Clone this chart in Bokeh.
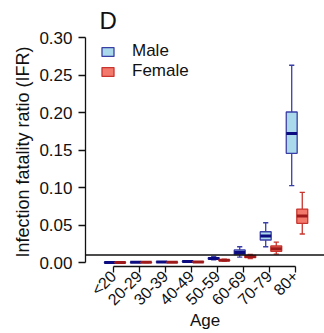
import math
from bokeh.plotting import figure
from bokeh.models import (ColumnDataSource, FixedTicker, NumeralTickFormatter,
                          Span, Legend, LegendItem, Range1d)
from bokeh.transform import dodge
from bokeh.embed import file_html
from bokeh.resources import INLINE

# ---- data ----
categories = ["<20", "20-29", "30-39", "40-49", "50-59", "60-69", "70-79", "80+"]

male_lower  = [0.00002, 0.0001, 0.0003, 0.0008, 0.0035, 0.0073, 0.021, 0.1024]
male_q1     = [0.00005, 0.0002, 0.0005, 0.0012, 0.0045, 0.0105, 0.030, 0.1456]
male_median = [0.0001,  0.0003, 0.0007, 0.0015, 0.0055, 0.0133, 0.0353, 0.172]
male_q3     = [0.00015, 0.0004, 0.0009, 0.0018, 0.0065, 0.0167, 0.041, 0.2007]
male_upper  = [0.0003,  0.0006, 0.0012, 0.0024, 0.0080, 0.021, 0.053, 0.263]

female_lower  = [0.00001, 0.00005, 0.0002, 0.0004, 0.0018, 0.0052, 0.0113, 0.038]
female_q1     = [0.00003, 0.0001,  0.0003, 0.0006, 0.0025, 0.0064, 0.015, 0.0522]
female_median = [0.00005, 0.0002,  0.0004, 0.0008, 0.0030, 0.0079, 0.0184, 0.062]
female_q3     = [0.00008, 0.0003,  0.0005, 0.0010, 0.0035, 0.0096, 0.022, 0.0713]
female_upper  = [0.00015, 0.0004,  0.0007, 0.0013, 0.0045, 0.0108, 0.0273, 0.0936]

y_ticks = [0.0, 0.05, 0.10, 0.15, 0.20, 0.25, 0.30]
x_pos = list(range(len(categories)))

FONT = "Liberation Sans"

male_src = ColumnDataSource(dict(x=x_pos, lo=male_lower, q1=male_q1, med=male_median,
                                 q3=male_q3, hi=male_upper))
female_src = ColumnDataSource(dict(x=x_pos, lo=female_lower, q1=female_q1, med=female_median,
                                   q3=female_q3, hi=female_upper))

p = figure(width=324, height=333, output_backend="svg", toolbar_location=None,
           x_range=Range1d(-1.077, 8.115), y_range=Range1d(-0.0053, 0.30),
           min_border_left=85, min_border_right=0, min_border_top=37, min_border_bottom=67)
p.outline_line_color = None
p.grid.visible = False
p.background_fill_color = "white"
p.border_fill_color = "white"

# panel letter as the plot title
p.title.text = "D"
p.title.align = "left"
p.title.offset = 14
p.title.standoff = 8
p.title.text_font = FONT
p.title.text_font_size = "24px"
p.title.text_font_style = "normal"
p.title.text_color = "#111111"

BW = 0.42
CAP = 0.2

def draw(src, off, fill, line, med_col):
    xs = dodge("x", off, range=p.x_range)
    p.segment(x0=xs, x1=xs, y0="q3", y1="hi", source=src, line_color=line, line_width=1.3)
    p.segment(x0=xs, x1=xs, y0="lo", y1="q1", source=src, line_color=line, line_width=1.3)
    p.segment(x0=dodge("x", off - CAP / 2, range=p.x_range), x1=dodge("x", off + CAP / 2, range=p.x_range),
              y0="hi", y1="hi", source=src, line_color=line, line_width=1.3)
    p.segment(x0=dodge("x", off - CAP / 2, range=p.x_range), x1=dodge("x", off + CAP / 2, range=p.x_range),
              y0="lo", y1="lo", source=src, line_color=line, line_width=1.3)
    r = p.vbar(x=xs, width=BW, top="q3", bottom="q1", source=src,
               fill_color=fill, line_color=line, line_width=1.3)
    p.segment(x0=dodge("x", off - BW / 2, range=p.x_range), x1=dodge("x", off + BW / 2, range=p.x_range),
              y0="med", y1="med", source=src, line_color=med_col, line_width=3)
    return r

rm = draw(male_src, -0.146, "#a9d9ea", "#3a3fa6", "#0c0c80")
rf = draw(female_src, 0.26, "#f4796d", "#c8352e", "#9e1a1a")

p.add_layout(Span(location=0.01, dimension="width", line_color="#111111", line_width=1.3))

# y axis
ya = p.yaxis[0]
ya.ticker = FixedTicker(ticks=y_ticks)
ya.formatter = NumeralTickFormatter(format="0.00")
ya.bounds = (0, 0.30)
ya.major_tick_out = 7
ya.major_tick_in = 0
ya.minor_tick_line_color = None
ya.axis_line_width = 1.3
ya.major_tick_line_width = 1.3
ya.axis_line_color = "#111111"
ya.major_tick_line_color = "#111111"
ya.major_label_text_font = FONT
ya.major_label_text_font_size = "17px"
ya.major_label_text_color = "#111111"
ya.major_label_standoff = 6
ya.axis_label = "Infection fatality ratio (IFR)"
ya.axis_label_text_font = FONT
ya.axis_label_text_font_size = "18px"
ya.axis_label_text_font_style = "normal"
ya.axis_label_text_color = "#111111"
ya.axis_label_standoff = 3

# x axis
xa = p.xaxis[0]
xa.ticker = FixedTicker(ticks=x_pos)
xa.major_label_overrides = {i: c for i, c in zip(x_pos, categories)}
xa.bounds = (0, len(categories) - 1)
xa.major_tick_out = 6
xa.major_tick_in = 0
xa.minor_tick_line_color = None
xa.axis_line_width = 1.3
xa.major_tick_line_width = 1.3
xa.axis_line_color = "#111111"
xa.major_tick_line_color = "#111111"
xa.major_label_orientation = math.pi / 4
xa.major_label_text_font = FONT
xa.major_label_text_font_size = "16px"
xa.major_label_text_color = "#111111"
xa.major_label_standoff = 1
xa.axis_label = "Age"
xa.axis_label_text_font = FONT
xa.axis_label_text_font_size = "17px"
xa.axis_label_text_font_style = "normal"
xa.axis_label_text_color = "#111111"
xa.axis_label_standoff = -6

legend = Legend(items=[LegendItem(label="Male", renderers=[rm]),
                       LegendItem(label="Female", renderers=[rf])],
                location=(15, 185), border_line_color=None, background_fill_alpha=0,
                padding=0, margin=0, spacing=0, glyph_width=15, glyph_height=11,
                label_standoff=17, label_text_font=FONT, label_text_font_size="17px",
                label_height=17, label_text_color="#111111")
p.add_layout(legend)

open("out.html", "w").write(file_html(p, INLINE))
